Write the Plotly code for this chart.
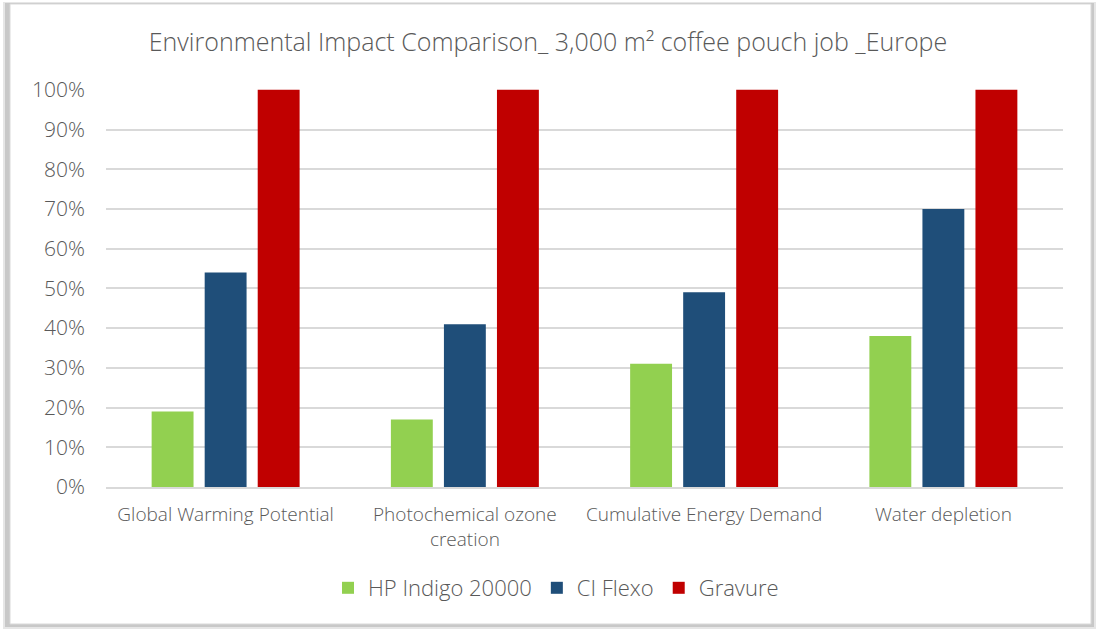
import plotly.graph_objects as go

categories = ["Global Warming Potential", "Photochemical ozone<br>creation",
              "Cumulative Energy Demand", "Water depletion"]
hp_indigo = [0.19, 0.17, 0.31, 0.38]
ci_flexo = [0.54, 0.41, 0.49, 0.70]
gravure = [1.00, 1.00, 1.00, 1.00]
series_names = ["HP Indigo 20000", "CI Flexo", "Gravure"]
colors = ["#92D050", "#1F4E79", "#C00000"]
tick_vals = [i / 10 for i in range(11)]
tick_text = [f"{i*10}%" for i in range(11)]

FONT = "Open Sans"
TXT = "#595959"
W, H = 1096, 629
L, R, T, B = 106, 33, 89, 142
pw, ph = W - L - R, H - T - B

def px(x):
    return (x - L) / pw

def py(y):
    return (H - B - y) / ph

fig = go.Figure()
for name, vals, c in zip(series_names, [hp_indigo, ci_flexo, gravure], colors):
    fig.add_trace(go.Bar(x=categories, y=vals, name=name, marker_color=c,
                         marker_line_width=0))

shapes = [
    # soft shadow
    dict(type="rect", xref="paper", yref="paper", x0=px(3), x1=px(1096), y0=py(629), y1=py(2),
         fillcolor="#E6E6E6", line_width=0, layer="below"),
    dict(type="rect", xref="paper", yref="paper", x0=px(5), x1=px(1094), y0=py(627), y1=py(3),
         fillcolor="#C8C8C8", line_width=0, layer="below"),
    dict(type="rect", xref="paper", yref="paper", x0=px(10), x1=px(1091), y0=py(624), y1=py(4),
         fillcolor="white", line=dict(color="#D9D9D9", width=1), layer="below"),
]

fig.update_layout(
    width=W, height=H,
    margin=dict(l=L, r=R, t=T, b=B),
    paper_bgcolor="white", plot_bgcolor="rgba(0,0,0,0)",
    barmode="group", bargap=0.335, bargroupgap=0.21,
    title=dict(text="Environmental Impact Comparison_ 3,000 m² coffee pouch job _Europe",
               x=0.5, xref="container", xanchor="center", y=1 - 42 / H, yanchor="middle",
               font=dict(family=FONT, size=25, color=TXT, weight=300)),
    font=dict(family=FONT, color=TXT, weight=300),
    xaxis=dict(showgrid=False, showline=True, linecolor="#D9D9D9", linewidth=2,
               tickfont=dict(size=19, color=TXT, weight=300), ticks="", tickangle=0,
               ticklabelstandoff=9),
    yaxis=dict(range=[0, 1.002], tickvals=tick_vals, ticktext=tick_text,
               showgrid=True, gridcolor="#D9D9D9", gridwidth=2, zeroline=False,
               tickfont=dict(size=21, color=TXT, weight=300), ticks="", ticklabelstandoff=20),
    legend=dict(orientation="h", x=px(556), xanchor="center", y=py(588), yanchor="middle",
                font=dict(size=22, color=TXT, weight=300), itemwidth=30, traceorder="normal"),
    shapes=shapes,
    showlegend=True,
)
fig.write_html("out.html", config={"displayModeBar": False},
               post_script="document.body.style.margin='0';document.body.style.overflow='hidden';")
